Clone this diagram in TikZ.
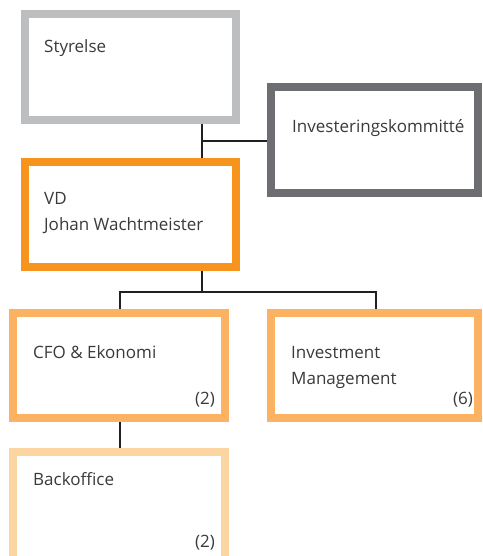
\documentclass[tikz,border=0pt]{standalone}
\usepackage{fontspec}
\setmainfont{Open Sans}
\definecolor{gStyr}{HTML}{BCBEC0}
\definecolor{gInv}{HTML}{6D6E71}
\definecolor{oVD}{HTML}{F7941D}
\definecolor{oMid}{HTML}{FBB262}
\definecolor{oLight}{HTML}{FDD5A1}
\definecolor{txt}{HTML}{3A3A3A}
\definecolor{ln}{HTML}{231F20}
\begin{document}
\begin{tikzpicture}[x=1pt,y=-1pt,
  box/.style={draw, line width=8pt, fill=white, inner sep=0pt, outer sep=4pt},
  lbl/.style={anchor=base west, inner sep=0pt, text=txt, font=\fontsize{17}{26}\selectfont},
  num/.style={anchor=base east, inner sep=0pt, text=txt, font=\fontsize{17}{26}\selectfont},
  conn/.style={draw=ln, line width=2pt}]
\useasboundingbox (0,0) rectangle (482,556);
\node[box, draw=gStyr, minimum width=211pt, minimum height=106pt] (styr) at (130.5,67) {};
\node[box, draw=gInv, minimum width=207pt, minimum height=106pt] (inv) at (374.5,140) {};
\node[box, draw=oVD, minimum width=211pt, minimum height=105pt] (vd) at (130.5,214.5) {};
\node[box, draw=oMid, minimum width=212pt, minimum height=105pt] (cfo) at (119,365.5) {};
\node[box, draw=oMid, minimum width=207pt, minimum height=105pt] (im) at (374.5,365.5) {};
\node[box, draw=oLight, minimum width=212pt, minimum height=112pt] (bo) at (119,508) {};
\coordinate (cx) at (202,0);
\coordinate (j1) at (202,141);
\coordinate (bl) at (120,292);
\coordinate (bm) at (202,292);
\coordinate (br) at (376,292);
\draw[conn] (styr.south -| cx) -- (vd.north -| cx);
\draw[conn] (j1) -- (inv.west |- j1);
\draw[conn] (vd.south -| cx) -- (bm);
\draw[conn, line join=miter] (cfo.north -| bl) -- (bl) -- (br) -- (im.north -| br);
\draw[conn] (cfo.south -| bl) -- (bo.north -| bl);
\node[lbl] (t1) at (44,53) {Styrelse};
\node[lbl] (t2) at (292,133) {Investeringskommitté};
\node[lbl] (t3) at (44,204) {VD};
\node[lbl] (t4) at (44,230) {Johan Wachtmeister};
\node[lbl] (t5) at (33,358) {CFO \& Ekonomi};
\node[num] (n1) at (215,404) {(2)};
\node[lbl] (t6) at (291,358) {Investment};
\node[lbl] (t7) at (291,384) {Management};
\node[num] (n2) at (473,404) {(6)};
\node[lbl] (t8) at (33,485) {Backoffice};
\node[num] (n3) at (215,547) {(2)};
\end{tikzpicture}
\end{document}
